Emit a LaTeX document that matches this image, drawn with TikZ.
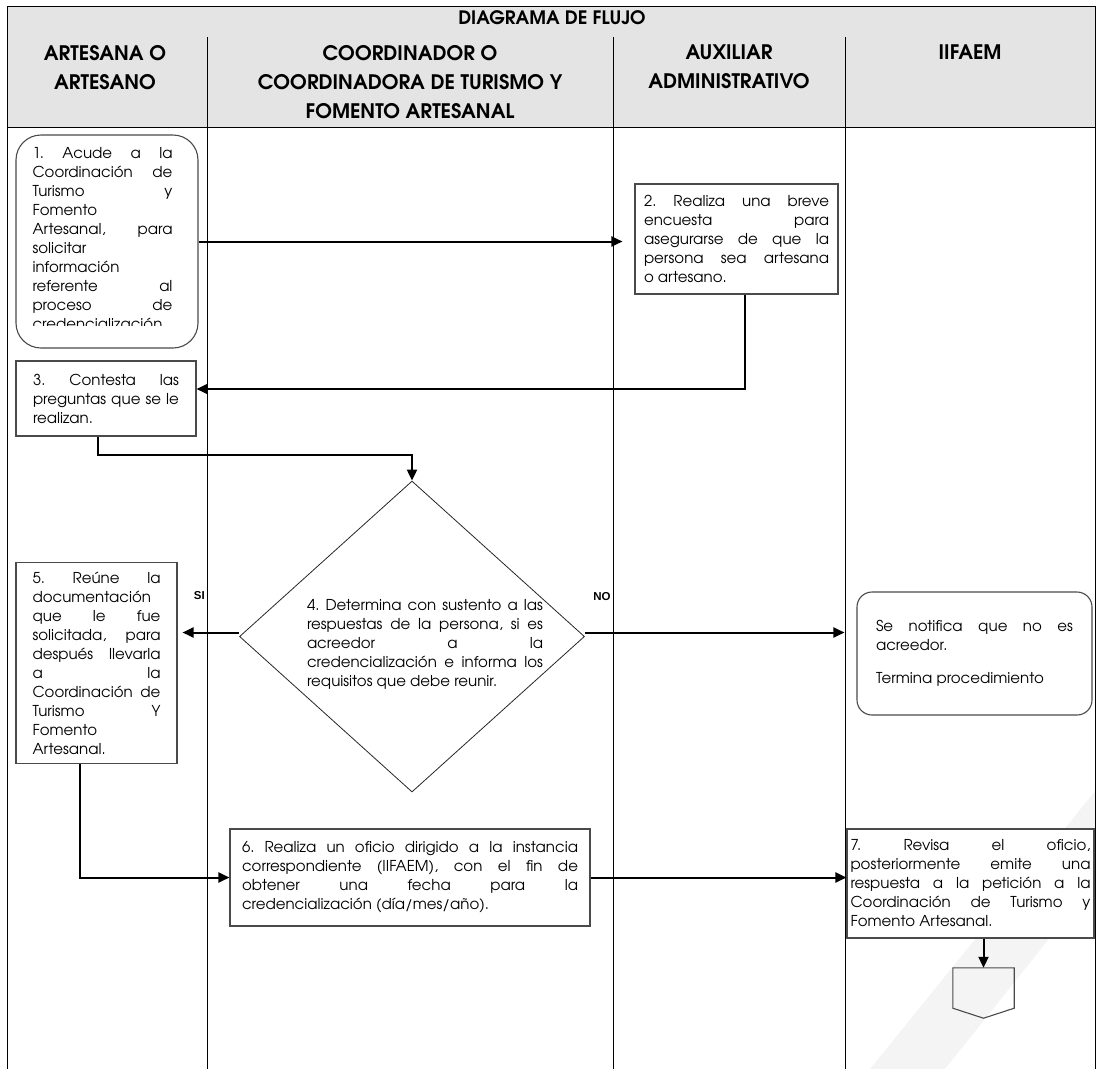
\documentclass[tikz,border=0pt]{standalone}
\usepackage{fontspec}
\setmainfont{TeX Gyre Adventor}
\newfontfamily\labelfont{Liberation Sans}
\usepackage{tikz}
\usetikzlibrary{positioning,arrows.meta,shapes.geometric,calc}
\definecolor{headbg}{HTML}{E4E4E4}
\definecolor{boxline}{HTML}{4A4A4A}
\definecolor{wmark}{HTML}{F4F4F4}
\pretolerance=10000
\tolerance=10000
\hbadness=10000
\frenchspacing

\begin{document}
\begin{tikzpicture}[
  x=1pt,y=-1pt,
  font=\fontsize{15}{19}\selectfont,
  lane/.style={draw=black,line width=0.9pt},
  colhead/.style={font=\fontsize{20}{29}\selectfont\bfseries,align=center,inner sep=0pt,anchor=north},
  box/.style={draw=boxline,line width=1.1pt,fill=white,inner sep=0pt,align=justify},
  term/.style={box,rounded corners=#1},
  decision/.style={diamond,draw=black!85,line width=0.8pt,fill=white,inner sep=0pt,minimum width=345pt,minimum height=311pt},
  txt/.style={text width=#1,align=justify,inner sep=0pt},
  offpage/.style={minimum width=61pt,minimum height=40pt,inner sep=0pt},
  edge/.style={-{Triangle[length=11pt,width=10pt]},draw=black,line width=2pt},
  lbl/.style={font=\labelfont\bfseries\fontsize{11.5}{13}\selectfont,inner sep=0pt}
]
\useasboundingbox (0,0) rectangle (1096,1069);

% faint watermark
\fill[wmark] (870,1069) -- (1096,790) -- (1096,880) -- (945,1069) -- cycle;

% header and lanes
\fill[headbg] (7,6) rectangle (1095,127);
\draw[lane] (7,1069) -- (7,6) -- (1095,6) -- (1095,1069);
\draw[lane] (7,127) -- (1095,127);
\foreach \lx in {207.5,613,845.5}
  \draw[lane] (\lx,37) -- (\lx,1069);

\node[font=\fontsize{18.5}{22}\selectfont\bfseries,inner sep=0pt] (title) at (552,18) {DIAGRAMA DE FLUJO};
\node[colhead] (h1) at (105,45) {ARTESANA O\\ARTESANO};
\node[colhead] (h2) at (410,45) {COORDINADOR O\\COORDINADORA DE TURISMO Y\\FOMENTO ARTESANAL};
\node[colhead] (h3) at (729,45) {AUXILIAR\\ADMINISTRATIVO};
\node[colhead] (h4) at (970,45) {IIFAEM};

% steps
\node[term=25pt,minimum width=182pt,minimum height=213pt] (n1) at (107,241.5) {};
\begin{scope}
  \clip (18,137) rectangle (196,325);
  \node[txt=140pt,anchor=north] (t1) at (102.5,147) {1. Acude a la\linebreak Coordinación de\linebreak Turismo y\linebreak Fomento\linebreak Artesanal, para\linebreak solicitar\linebreak información\linebreak referente al\linebreak proceso de\linebreak credencialización};
\end{scope}

\node[box,text width=185pt,minimum width=203pt,minimum height=110pt] (n2) at (736.5,239) {2. Realiza una breve\linebreak encuesta para\linebreak asegurarse de que la\linebreak persona sea artesana\linebreak o artesano.};

\node[box,text width=146pt,minimum width=180pt,minimum height=75pt] (n3) at (106,398.5) {3. Contesta las\linebreak preguntas que se le\linebreak realizan.};

\node[decision] (d4) at (412,636.5) {};
\node[txt=236pt] (t4) at (425,644) {4. Determina con sustento a las\linebreak respuestas de la persona, si es\linebreak acreedor a la\linebreak credencialización e informa los\linebreak requisitos que debe reunir.};

\node[box,text width=128pt,minimum width=161pt,minimum height=201pt] (n5) at (96.5,663) {5. Reúne la\linebreak documentación\linebreak que le fue\linebreak solicitada, para\linebreak después llevarla\linebreak a la\linebreak Coordinación de\linebreak Turismo Y\linebreak Fomento\linebreak Artesanal.};

\node[term=15pt,text width=197pt,minimum width=235pt,minimum height=123pt] (nt) at (974.5,653.5) {Se notifica que no es\linebreak acreedor.\par\vskip14pt Termina procedimiento};

\node[box,text width=336pt,minimum width=360pt,minimum height=97pt] (n6) at (410,877.5) {6. Realiza un oficio dirigido a la instancia\linebreak correspondiente (IIFAEM), con el fin de\linebreak obtener una fecha para la\linebreak credencialización (día/mes/año).};

\node[box,text width=240pt,minimum width=247pt,minimum height=109pt] (n7) at (970.5,883.5) {7. Revisa el oficio,\linebreak posteriormente emite una\linebreak respuesta a la petición a la\linebreak Coordinación de Turismo y\linebreak Fomento Artesanal.};

\node[offpage] (off) at (983.5,988) {};
\draw[boxline,line width=1.1pt] (off.north west) -- (off.north east) -- (off.south east)
  -- ($(off.south)+(0,10)$) -- (off.south west) -- cycle;

\node[lbl,anchor=east] (si) at (205,596) {SI};
\node[lbl] (no) at (602,597) {NO};

% connectors
\draw[edge,shorten >=12pt] (n1.east) -- (n1.east -| n2.west);
\draw[edge] ([xshift=8pt]n2.south) |- ([yshift=9.5pt]n3.east);
\draw[edge] ([xshift=-8pt]n3.south) -- ++(0,18) -| (d4.north);
\draw[edge,shorten >=5pt] ([yshift=4pt]d4.west) -- ([yshift=4pt]d4.west -| n5.east);
\draw[edge,shorten >=12pt] ([yshift=4pt]d4.east) -- ([yshift=4pt]d4.east -| nt.west);
\draw[edge] ([xshift=-16.5pt]n5.south) |- (n6.west);
\draw[edge] (n6.east) -- (n6.east -| n7.west);
\draw[edge] (n7.south -| off.north) -- (off.north);
\end{tikzpicture}
\end{document}
